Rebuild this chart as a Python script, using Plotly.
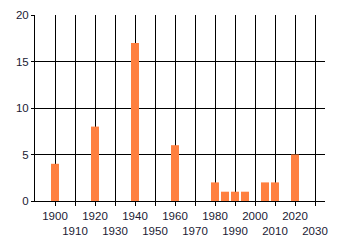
import plotly.graph_objects as go

years = [1900, 1920, 1940, 1960, 1980, 1985, 1990, 1995, 2005, 2010, 2020]
counts = [4, 8, 17, 6, 2, 1, 1, 1, 2, 2, 5]
tick_years = list(range(1900, 2031, 10))
tick_labels = [str(y) if (y // 10) % 2 == 0 else "<br>" + str(y) for y in tick_years]
y_ticks = [0, 5, 10, 15, 20]

fig = go.Figure(go.Bar(x=years, y=counts, width=4, marker=dict(color="#FF8040", line=dict(width=0))))

font = dict(family="Liberation Sans, Arial, sans-serif", size=11.5, color="#1a1a33")
fig.update_layout(
    width=340, height=245,
    margin=dict(l=35, r=15, t=15, b=44),
    paper_bgcolor="white", plot_bgcolor="white",
    showlegend=False, font=font,
    xaxis=dict(range=[1890, 2035], tickvals=tick_years, ticktext=tick_labels,
               showgrid=True, gridcolor="black", gridwidth=1,
               showline=True, linecolor="black", linewidth=1,
               ticks="outside", ticklen=4, tickcolor="black", tickangle=0,
               zeroline=False, automargin=False),
    yaxis=dict(range=[0, 20], tickvals=y_ticks,
               showgrid=True, gridcolor="black", gridwidth=1,
               showline=True, linecolor="black", linewidth=1,
               ticks="outside", ticklen=3, tickcolor="black",
               zeroline=False, automargin=False),
)
fig.write_html("out.html")
